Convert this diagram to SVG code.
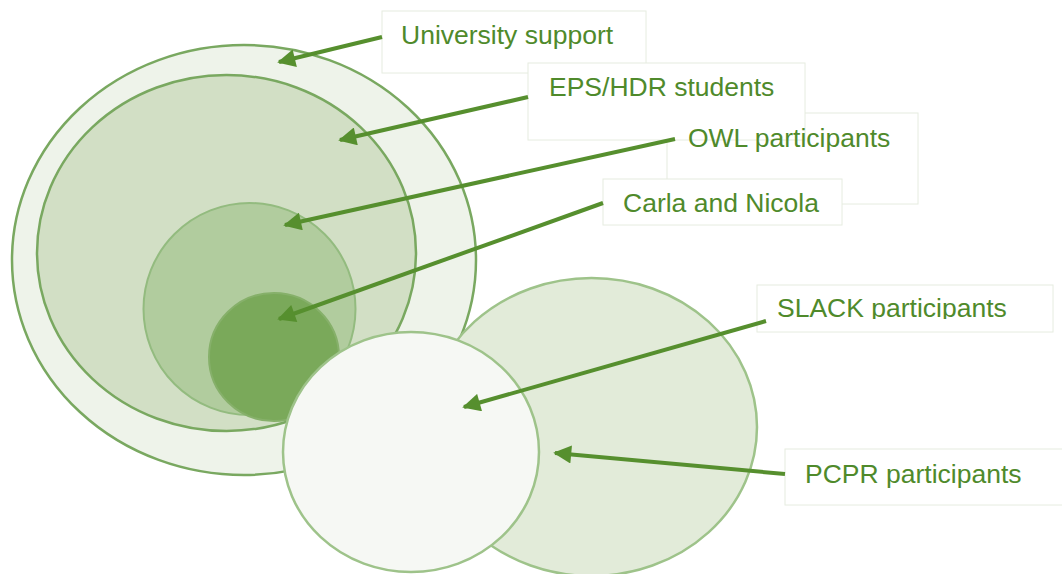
<svg xmlns="http://www.w3.org/2000/svg" width="1062" height="574" viewBox="0 0 1062 574">
<style>
.box{fill:#ffffff;stroke:#e6ece0;stroke-width:1}
.lbl{font-family:"Liberation Sans",Arial,sans-serif;font-size:26.5px;fill:#4f8a2b}
.conn{stroke:#568f2e;stroke-width:4;fill:none;marker-end:url(#ah)}
</style>
<defs>
<marker id="ah" viewBox="0 0 10 10" refX="9" refY="5" markerWidth="5.5" markerHeight="4.5" orient="auto" markerUnits="strokeWidth">
<path d="M0,0 L10,5 L0,10 Z" fill="#568f2e"/>
</marker>
<clipPath id="slackclip"><rect x="757" y="285" width="296" height="34"/></clipPath>
</defs>
<rect width="1062" height="574" fill="#ffffff"/>
<g id="university-circle"><ellipse cx="244" cy="260" rx="232" ry="215" fill="#eef3ea" stroke="#79a860" stroke-width="2.5"/></g>
<g id="eps-circle"><ellipse cx="226.5" cy="253" rx="189.5" ry="178" fill="#d2dfc5" stroke="#79a860" stroke-width="2.5"/></g>
<g id="owl-circle"><ellipse cx="249.5" cy="309" rx="106" ry="106" fill="#b1cc9e" stroke="#93bb7f" stroke-width="2"/></g>
<g id="carla-circle"><ellipse cx="274" cy="357" rx="65" ry="64" fill="#7aa95a" stroke="#86b06a" stroke-width="2"/></g>
<g id="pcpr-circle"><ellipse cx="591.5" cy="427" rx="165.5" ry="149" fill="#e2ebd9" stroke="#9ec38a" stroke-width="2.5"/></g>
<g id="slack-circle"><ellipse cx="411" cy="452" rx="128" ry="120" fill="#f6f8f4" stroke="#9ec38a" stroke-width="2.5"/></g>
<g id="university-box"><rect class="box" x="382" y="11" width="264" height="62"/></g>
<g id="owl-box"><rect class="box" x="667" y="113" width="251" height="91"/></g>
<g id="eps-box"><rect class="box" x="528" y="63" width="277" height="77"/></g>
<g id="carla-box"><rect class="box" x="603" y="179" width="239" height="46"/></g>
<g id="slack-box"><rect class="box" x="757" y="285" width="296" height="47"/></g>
<g id="pcpr-box"><rect class="box" x="785" y="449" width="290" height="56"/></g>
<g id="university-label"><text class="lbl" x="401" y="44">University support</text></g>
<g id="eps-label"><text class="lbl" x="549" y="96">EPS/HDR students</text></g>
<g id="owl-label"><text class="lbl" x="688" y="147">OWL participants</text></g>
<g id="carla-label"><text class="lbl" x="623" y="212">Carla and Nicola</text></g>
<g id="slack-label"><text class="lbl" x="777" y="317" clip-path="url(#slackclip)">SLACK participants</text></g>
<g id="pcpr-label"><text class="lbl" x="805" y="483">PCPR participants</text></g>
<g id="connectors">
<line class="conn" x1="382" y1="37" x2="279" y2="62"/>
<line class="conn" x1="528" y1="97" x2="340" y2="140"/>
<line class="conn" x1="675" y1="139" x2="285" y2="225"/>
<line class="conn" x1="603" y1="203" x2="279" y2="319"/>
<line class="conn" x1="766" y1="321" x2="464" y2="407"/>
<line class="conn" x1="785" y1="474" x2="555" y2="453"/>
</g>
</svg>
